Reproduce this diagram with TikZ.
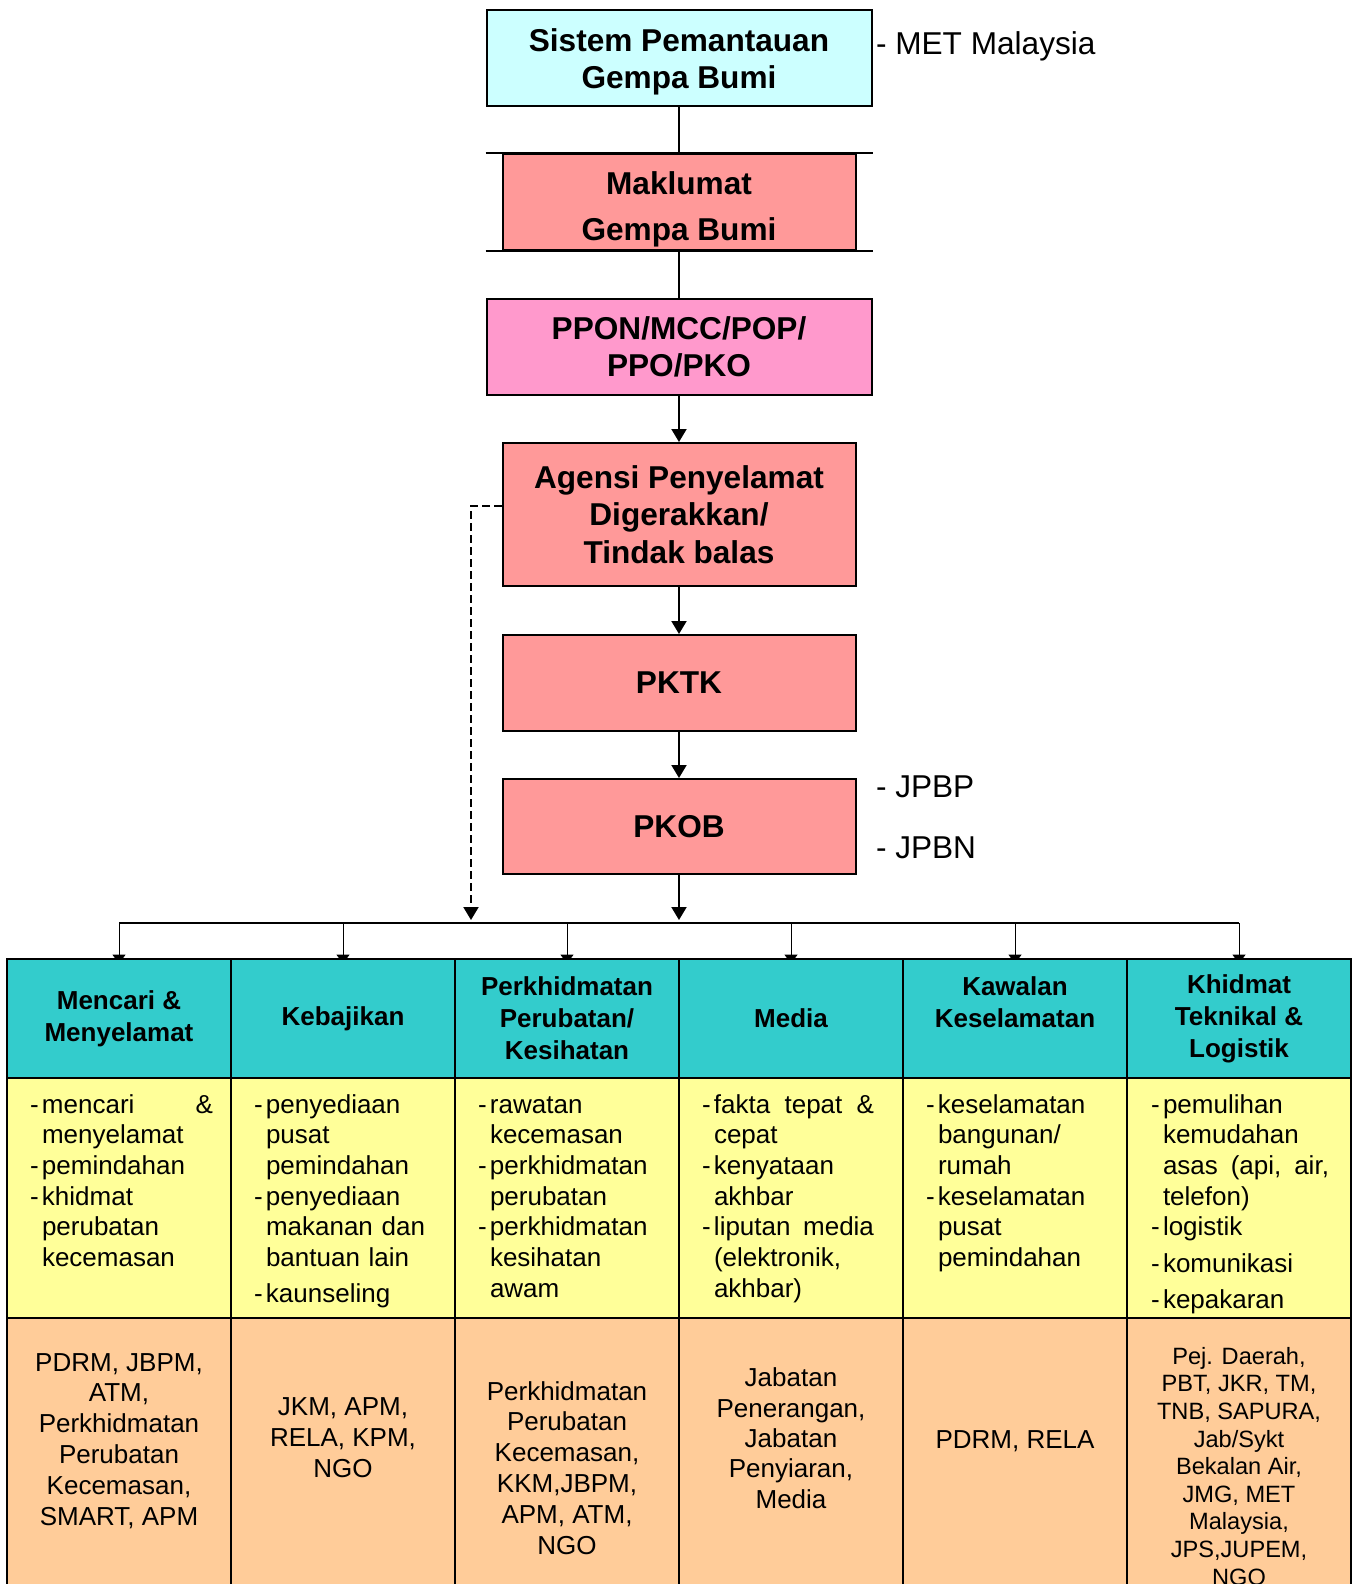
\documentclass[tikz,border=0pt]{standalone}
\usepackage{fontspec}
\setmainfont{Liberation Sans}
\usetikzlibrary{arrows.meta,backgrounds}

\definecolor{kotakbiru}{HTML}{CCFFFF}
\definecolor{kotakmerah}{HTML}{FF9999}
\definecolor{kotakpink}{HTML}{FF99CC}
\definecolor{tajuk}{HTML}{33CCCC}
\definecolor{tugas}{HTML}{FFFF99}
\definecolor{agensi}{HTML}{FFCC99}

% пункт списка с тире
\newcommand{\itm}[1]{\hangindent=6pt\hangafter=1\noindent\makebox[6pt][l]{-}#1\par}

\begin{document}
\begin{tikzpicture}[x=0.5pt, y=-0.5pt, line width=1pt,
	>={Triangle[length=6.5pt,width=7.5pt]},
	kotak/.style={draw, inner sep=0pt, minimum width=176.5pt, minimum height=48pt, align=center, font=\fontsize{15.8}{18.5}\selectfont\bfseries},
	sel/.style={draw, line width=1.4pt, inner sep=0pt, minimum width=112pt},
	tajuksel/.style={sel, fill=tajuk, minimum height=59.5pt, align=center, font=\fontsize{13}{16}\selectfont\bfseries},
	tugassel/.style={sel, fill=tugas, minimum height=120pt},
	agensisel/.style={sel, fill=agensi, minimum height=141pt},
	tugasteks/.style={anchor=base west, inner sep=0pt, text width=91.5pt, align=left, font=\fontsize{13}{15.35}\selectfont},
	agensiteks/.style={anchor=base, inner sep=0pt, align=center, font=\fontsize{13}{15.4}\selectfont},
	catatan/.style={anchor=base west, inner sep=0pt, font=\fontsize{15.8}{19}\selectfont},
	putus/.style={dash pattern=on 4pt off 2pt}]
	\useasboundingbox (0,0) rectangle (1355,1584);
	\clip (0,0) rectangle (1355,1584);

	% Блоки по вертикали
	\node[kotak, fill=kotakbiru, minimum width=192.5pt] (sistem) at (679,58) {\rule{0pt}{15.5pt}Sistem Pemantauan\\Gempa Bumi};
	\node[kotak, fill=kotakmerah, font=\fontsize{15.8}{23}\selectfont\bfseries] (maklumat) at (679,202) {\rule{0pt}{18.5pt}Maklumat\\Gempa Bumi};
	\node[kotak, fill=kotakpink, minimum width=192.5pt] (ppon) at (679,347) {PPON/MCC/POP/\\PPO/PKO};
	\node[kotak, fill=kotakmerah, minimum height=71.5pt, font=\fontsize{15.8}{18.8}\selectfont\bfseries] (agensi) at (679,514.5) {Agensi Penyelamat\\Digerakkan/\\Tindak balas};
	\node[kotak, fill=kotakmerah] (pktk) at (679,683) {PKTK};
	\node[kotak, fill=kotakmerah, minimum height=47.5pt] (pkob) at (679,826.5) {PKOB};

	\draw (sistem.west |- maklumat.north) -- (sistem.east |- maklumat.north); % верхняя линия
	\draw (sistem.west |- maklumat.south) -- (sistem.east |- maklumat.south); % нижняя линия

	% Подписи справа
	\node[catatan] (met) at (875,55) {- MET Malaysia};
	\node[catatan] (jpbp) at (875,797) {- JPBP};
	\node[catatan] (jpbn) at (875,858) {- JPBN};

	% Шина
	\coordinate (b1) at (119,923);
	\coordinate (b2) at (343,923);
	\coordinate (b3) at (567,923);
	\coordinate (b4) at (791,923);
	\coordinate (b5) at (1015,923);
	\coordinate (b6) at (1239,923);
	\coordinate (bm) at (679,920);
	\coordinate (bd) at (471,920);

	\draw (sistem) -- (maklumat);
	\draw (maklumat) -- (ppon);
	\draw[->] (ppon) -- (agensi);
	\draw[->] (agensi) -- (pktk);
	\draw[->] (pktk) -- (pkob);
	\draw[->] (pkob) -- (bm);
	\draw[putus, ->] ([yshift=4.5pt]agensi.west) -| (bd); % пунктир
	\draw (b1) -- (b6);

	% Таблица: заголовки
	\node[tajuksel] (h1) at (119,1018.5) {Mencari \&\\Menyelamat};
	\node[tajuksel] (h2) at (343,1018.5) {Kebajikan};
	\node[tajuksel] (h3) at (567,1018.5) {Perkhidmatan\\Perubatan/\\Kesihatan};
	\node[tajuksel] (h4) at (791,1018.5) {Media};
	\node[tajuksel] (h5) at (1015,1018.5) {Kawalan\\Keselamatan\\\mbox{}};
	\node[tajuksel] (h6) at (1239,1018.5) {Khidmat\\Teknikal \&\\Logistik};

	\begin{scope}[on background layer, >={Triangle[length=4.5pt,width=6.5pt]}]
		\draw[->, shorten >=-3pt] (b1) -- (h1);
		\draw[->, shorten >=-3pt] (b2) -- (h2);
		\draw[->, shorten >=-3pt] (b3) -- (h3);
		\draw[->, shorten >=-3pt] (b4) -- (h4);
		\draw[->, shorten >=-3pt] (b5) -- (h5);
		\draw[->, shorten >=-3pt] (b6) -- (h6);
	\end{scope}

	% Таблица: задачи
	\node[tugassel] (d1) at (119,1198) {};
	\node[tugassel] (d2) at (343,1198) {};
	\node[tugassel] (d3) at (567,1198) {};
	\node[tugassel] (d4) at (791,1198) {};
	\node[tugassel] (d5) at (1015,1198) {};
	\node[tugassel] (d6) at (1239,1198) {};

	% Таблица: агентства
	\node[agensisel] (a1) at (119,1459) {};
	\node[agensisel] (a2) at (343,1459) {};
	\node[agensisel] (a3) at (567,1459) {};
	\node[agensisel] (a4) at (791,1459) {};
	\node[agensisel] (a5) at (1015,1459) {};
	\node[agensisel] (a6) at (1239,1459) {};

	\node[tugasteks] (t1) at (29,1113) {\itm{mencari\hfill\&\newline menyelamat}\itm{pemindahan}\itm{khidmat\newline perubatan\newline kecemasan}};
	\node[tugasteks] (t2) at (253,1113) {\itm{penyediaan\newline pusat\newline pemindahan}\itm{penyediaan\newline makanan dan\newline bantuan lain}\vspace{2.5pt}\itm{kaunseling}};
	\node[tugasteks] (t3) at (477,1113) {\itm{rawatan\newline kecemasan}\itm{perkhidmatan\newline perubatan}\itm{perkhidmatan\newline kesihatan\newline awam}};
	\node[tugasteks, text width=86pt] (t4) at (701,1113) {\itm{fakta\hfill tepat\hfill\&\newline cepat}\itm{kenyataan\newline akhbar}\itm{liputan\hfill media\newline (elektronik,\newline akhbar)}};
	\node[tugasteks] (t5) at (925,1113) {\itm{keselamatan\newline bangunan/\newline rumah}\itm{keselamatan\newline pusat\newline pemindahan}};
	\node[tugasteks, text width=89pt] (t6) at (1150,1113) {\itm{pemulihan\newline kemudahan\newline asas\hfill(api,\hfill air,\newline telefon)}\itm{logistik}\vspace{3pt}\itm{komunikasi}\vspace{2.5pt}\itm{kepakaran}};

	% последняя строка -- на базовой линии узла
	\node[agensiteks] (g1) at (119,1525) {PDRM, JBPM,\\ATM,\\Perkhidmatan\\Perubatan\\Kecemasan,\\SMART, APM};
	\node[agensiteks] (g2) at (343,1477) {JKM, APM,\\RELA, KPM,\\NGO};
	\node[agensiteks] (g3) at (567,1554) {Perkhidmatan\\Perubatan\\Kecemasan,\\KKM,JBPM,\\APM, ATM,\\NGO};
	\node[agensiteks, font=\fontsize{13}{15.15}\selectfont] (g4) at (791,1508) {Jabatan\\Penerangan,\\Jabatan\\Penyiaran,\\Media};
	\node[agensiteks] (g5) at (1015,1448) {PDRM, RELA};
	\node[agensiteks, font=\fontsize{11.8}{13.8}\selectfont] (g6) at (1239,1585) {Pej. Daerah,\\PBT, JKR, TM,\\TNB, SAPURA,\\Jab/Sykt\\Bekalan Air,\\JMG, MET\\Malaysia,\\JPS,JUPEM,\\NGO};
\end{tikzpicture}
\end{document}
